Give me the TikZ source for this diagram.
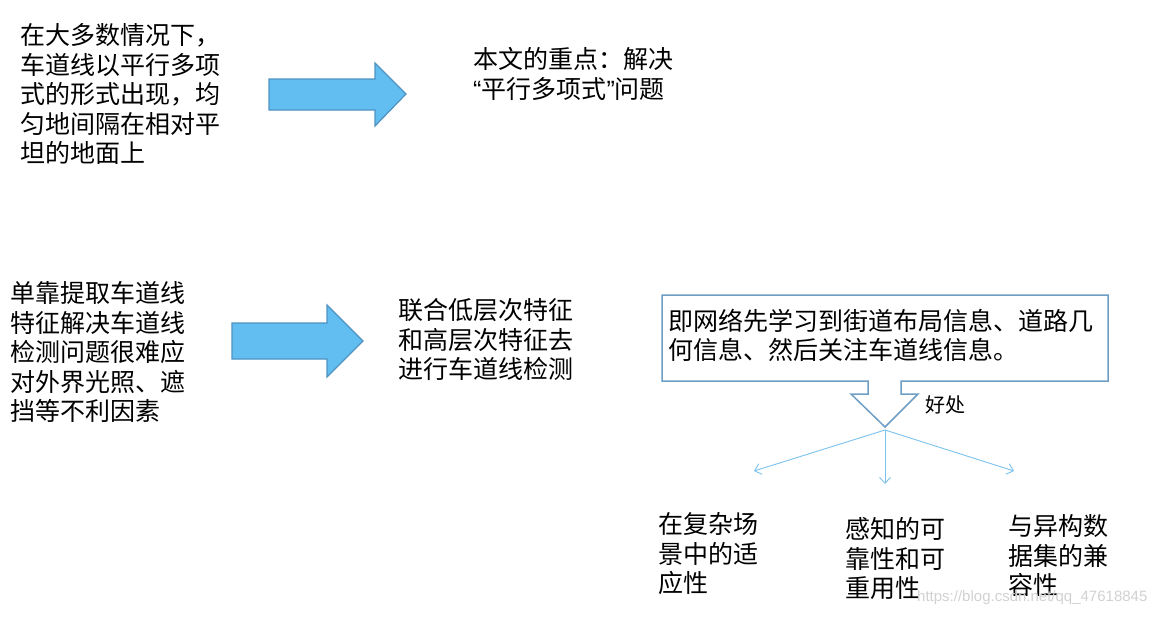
\documentclass[tikz,border=0pt]{standalone}
\usepackage{fontspec}
\setmainfont{Noto Sans CJK SC}
\newfontfamily\wmfont{Liberation Sans}
\usetikzlibrary{arrows.meta}
\definecolor{arrowfill}{HTML}{62BDF0}
\definecolor{arrowedge}{HTML}{4E92C2}
\definecolor{calloutedge}{HTML}{6F9EC4}
\definecolor{thinblue}{HTML}{7CC2EE}
\newcommand{\myopenq}{{\wmfont “}}
\newcommand{\myclosq}{{\wmfont ”}}
\begin{document}
\begin{tikzpicture}[x=1pt,y=-1pt,
  bigarrow/.style={fill=arrowfill, draw=arrowedge, line width=1.2pt, line join=miter},
  callout/.style={fill=white, draw=calloutedge, line width=1.5pt},
  txt/.style={anchor=north west, inner sep=0pt, align=left, font=\fontsize{25}{29.5}\selectfont},
  small/.style={anchor=north west, inner sep=0pt, font=\fontsize{20}{22}\selectfont},
  thin/.style={draw=thinblue, line width=0.9pt, -{Straight Barb[length=6pt,width=11pt]}}]
\useasboundingbox (0,0) rectangle (1161,618);
% big block arrows
\draw[bigarrow] (269,79) -- (375,79) -- (375,63) -- (406,94) -- (375,126) -- (375,110) -- (269,110) -- cycle;
\draw[bigarrow] (232,323) -- (327,323) -- (327,305) -- (363,341) -- (327,377) -- (327,359) -- (232,359) -- cycle;
% callout
\draw[callout] (662,295) -- (1108,295) -- (1108,381) -- (901,381) -- (901,394) -- (918,394) -- (885,427) -- (851,394) -- (868,394) -- (868,381) -- (662,381) -- cycle;
% texts
\node[txt] (t1) at (20,23.5) {在大多数情况下，\\车道线以平行多项\\式的形式出现，均\\匀地间隔在相对平\\坦的地面上};
\node[txt] (t2) at (473,47.5) {本文的重点：解决\\\myopenq 平行多项式\myclosq 问题};
\node[txt] (t3) at (10,281.5) {单靠提取车道线\\特征解决车道线\\检测问题很难应\\对外界光照、遮\\挡等不利因素};
\node[txt] (t4) at (398,298.5) {联合低层次特征\\和高层次特征去\\进行车道线检测};
\node[txt] (t5) at (668,308.5) {即网络先学习到街道布局信息、道路几\\何信息、然后关注车道线信息。};
\node[small] (hc) at (925,395) {好处};
\node[txt] (b1) at (658,512.5) {在复杂场\\景中的适\\应性};
\node[txt] (b2) at (845,517.5) {感知的可\\靠性和可\\重用性};
\node[txt] (b3) at (1008,514.5) {与异构数\\据集的兼\\容性};
% thin arrows
\coordinate (src) at (885,430);
\coordinate (e1) at (754,471);
\coordinate (e2) at (885,484);
\coordinate (e3) at (1014,471);
\draw[thin] (src) -- (e1);
\draw[thin] (src) -- (e2);
\draw[thin] (src) -- (e3);
% watermark
\node[anchor=north west, inner sep=0pt, text=black!18, font=\wmfont\fontsize{15}{17}\selectfont] (wm) at (917,590) {https://blog.csdn.net/qq\_47618845};
\end{tikzpicture}
\end{document}
